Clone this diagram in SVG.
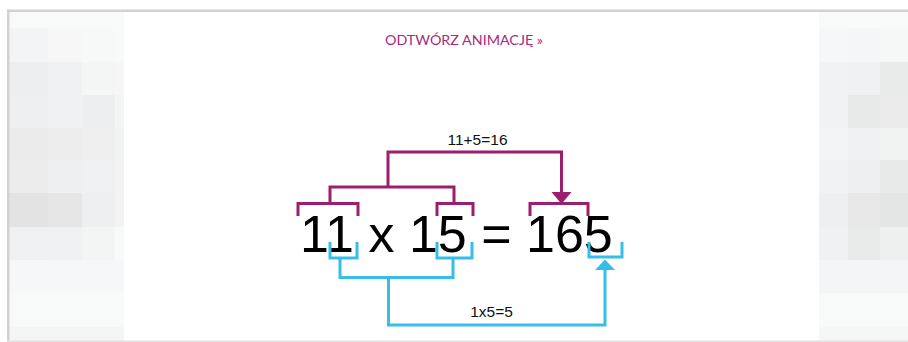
<svg xmlns="http://www.w3.org/2000/svg" width="908" height="342" viewBox="0 0 908 342">
<style>
.eq{font-family:"Liberation Sans",Arial,sans-serif;fill:#000}
.lbl{font-family:"Liberation Sans",Arial,sans-serif;fill:#111;font-size:15.5px;text-anchor:middle}
.pl{fill:none;stroke:#9b1f6e;stroke-width:3;stroke-linejoin:miter}
.bl{fill:none;stroke:#36bdea;stroke-width:3;stroke-linejoin:miter}
.pa{fill:#9b1f6e}
.ba{fill:#36bdea}
</style>
<rect x="0" y="0" width="908" height="342" fill="#ffffff"/>
<g id="left-mosaic">
<rect x="9" y="12" width="115" height="329" fill="#f8f9f9"/>
<rect x="9" y="28" width="39" height="34" fill="#f3f4f5"/>
<rect x="48" y="28" width="34" height="34" fill="#f7f7f8"/>
<rect x="82" y="28" width="33" height="34" fill="#f7f8f8"/>
<rect x="9" y="62" width="39" height="33" fill="#eceeef"/>
<rect x="48" y="62" width="34" height="33" fill="#eff0f1"/>
<rect x="82" y="62" width="33" height="33" fill="#f4f5f5"/>
<rect x="115" y="62" width="9" height="33" fill="#f6f6f7"/>
<rect x="9" y="95" width="39" height="33" fill="#eeeff0"/>
<rect x="48" y="95" width="34" height="33" fill="#f0f1f2"/>
<rect x="82" y="95" width="33" height="33" fill="#eceeef"/>
<rect x="115" y="95" width="9" height="33" fill="#f3f4f4"/>
<rect x="9" y="128" width="39" height="32" fill="#ebebeb"/>
<rect x="48" y="128" width="34" height="32" fill="#ededee"/>
<rect x="82" y="128" width="33" height="32" fill="#efeff0"/>
<rect x="115" y="128" width="9" height="32" fill="#f1f2f2"/>
<rect x="9" y="160" width="39" height="33" fill="#ececec"/>
<rect x="48" y="160" width="34" height="33" fill="#eeeff0"/>
<rect x="82" y="160" width="33" height="33" fill="#eff0f1"/>
<rect x="115" y="160" width="9" height="33" fill="#f3f3f3"/>
<rect x="9" y="193" width="39" height="34" fill="#e3e3e3"/>
<rect x="48" y="193" width="34" height="34" fill="#e6e6e6"/>
<rect x="82" y="193" width="33" height="34" fill="#eeeff0"/>
<rect x="115" y="193" width="9" height="34" fill="#f3f3f3"/>
<rect x="9" y="227" width="39" height="33" fill="#eef0f1"/>
<rect x="48" y="227" width="34" height="33" fill="#f0f1f2"/>
<rect x="82" y="227" width="33" height="33" fill="#f3f4f4"/>
<rect x="9" y="260" width="115" height="33" fill="#f6f7f8"/>
<rect x="9" y="327" width="115" height="14" fill="#f4f5f5"/>
</g>
<g id="right-mosaic">
<rect x="819" y="12" width="89" height="329" fill="#f8f9f9"/>
<rect x="819" y="28" width="29" height="34" fill="#f6f7f8"/>
<rect x="848" y="28" width="32" height="34" fill="#f5f6f7"/>
<rect x="880" y="28" width="28" height="34" fill="#f6f7f7"/>
<rect x="819" y="62" width="29" height="33" fill="#f1f2f3"/>
<rect x="848" y="62" width="32" height="33" fill="#eff0f1"/>
<rect x="880" y="62" width="28" height="33" fill="#e9eaea"/>
<rect x="819" y="95" width="29" height="33" fill="#f1f2f3"/>
<rect x="848" y="95" width="32" height="33" fill="#e8e9e9"/>
<rect x="880" y="95" width="28" height="33" fill="#ebebeb"/>
<rect x="819" y="128" width="29" height="32" fill="#f3f4f5"/>
<rect x="848" y="128" width="32" height="32" fill="#f0f1f2"/>
<rect x="880" y="128" width="28" height="32" fill="#f1f2f2"/>
<rect x="819" y="160" width="29" height="33" fill="#f1f2f3"/>
<rect x="848" y="160" width="32" height="33" fill="#eeeff0"/>
<rect x="880" y="160" width="28" height="33" fill="#e8e9e9"/>
<rect x="819" y="193" width="29" height="34" fill="#eeeff0"/>
<rect x="848" y="193" width="32" height="34" fill="#e8e8e8"/>
<rect x="880" y="193" width="28" height="34" fill="#e4e5e5"/>
<rect x="819" y="227" width="29" height="33" fill="#f0f1f2"/>
<rect x="848" y="227" width="32" height="33" fill="#e9eaea"/>
<rect x="880" y="227" width="28" height="33" fill="#eeefef"/>
<rect x="819" y="260" width="89" height="33" fill="#f4f5f6"/>
<rect x="819" y="327" width="89" height="14" fill="#f5f6f6"/>
</g>
<g id="frame">
<rect x="7" y="9.5" width="901" height="2.5" fill="#d2d2d2"/>
<rect x="7" y="9.5" width="2.5" height="332" fill="#d2d2d2"/>
<rect x="7" y="340.5" width="901" height="1.5" fill="#e2e2e2"/>
</g>
<g id="title">
<text x="464" y="45" font-family="Lato, 'Open Sans', sans-serif" font-size="14" fill="#a62a7e" text-anchor="middle" textLength="158" lengthAdjust="spacingAndGlyphs">ODTWÓRZ ANIMACJĘ »</text>
</g>
<g id="equation">
<text class="eq" x="300" y="252" font-size="52">11 x 15 = 165</text>
</g>
<g id="connectors">
<g id="sum-connector">
<path class="pl" d="M298,216 V203.5 H358 V216"/>
<path class="pl" d="M437,216 V203.5 H473 V216"/>
<path class="pl" d="M530,216 V203.5 H588 V216"/>
<path class="pl" d="M330,203.5 V187 H454 V203.5"/>
<path class="pl" d="M388,187 V152 H561.5 V193"/>
<polygon class="pa" points="551.5,192 571.5,192 561.5,204"/>
</g>
<g id="product-connector">
<path class="bl" d="M330,242 V258 H357 V242"/>
<path class="bl" d="M437,242 V258 H472 V242"/>
<path class="bl" d="M589,242 V257 H622 V242"/>
<path class="bl" d="M340,258 V277.5 H453 V258"/>
<path class="bl" d="M388.5,277.5 V325 H605 V269"/>
<polygon class="ba" points="595,270 615,270 605,259.5"/>
</g>
</g>
<g id="labels">
<text class="lbl" x="477.5" y="145">11+5=16</text>
<text class="lbl" x="491.5" y="317">1x5=5</text>
</g>
</svg>
